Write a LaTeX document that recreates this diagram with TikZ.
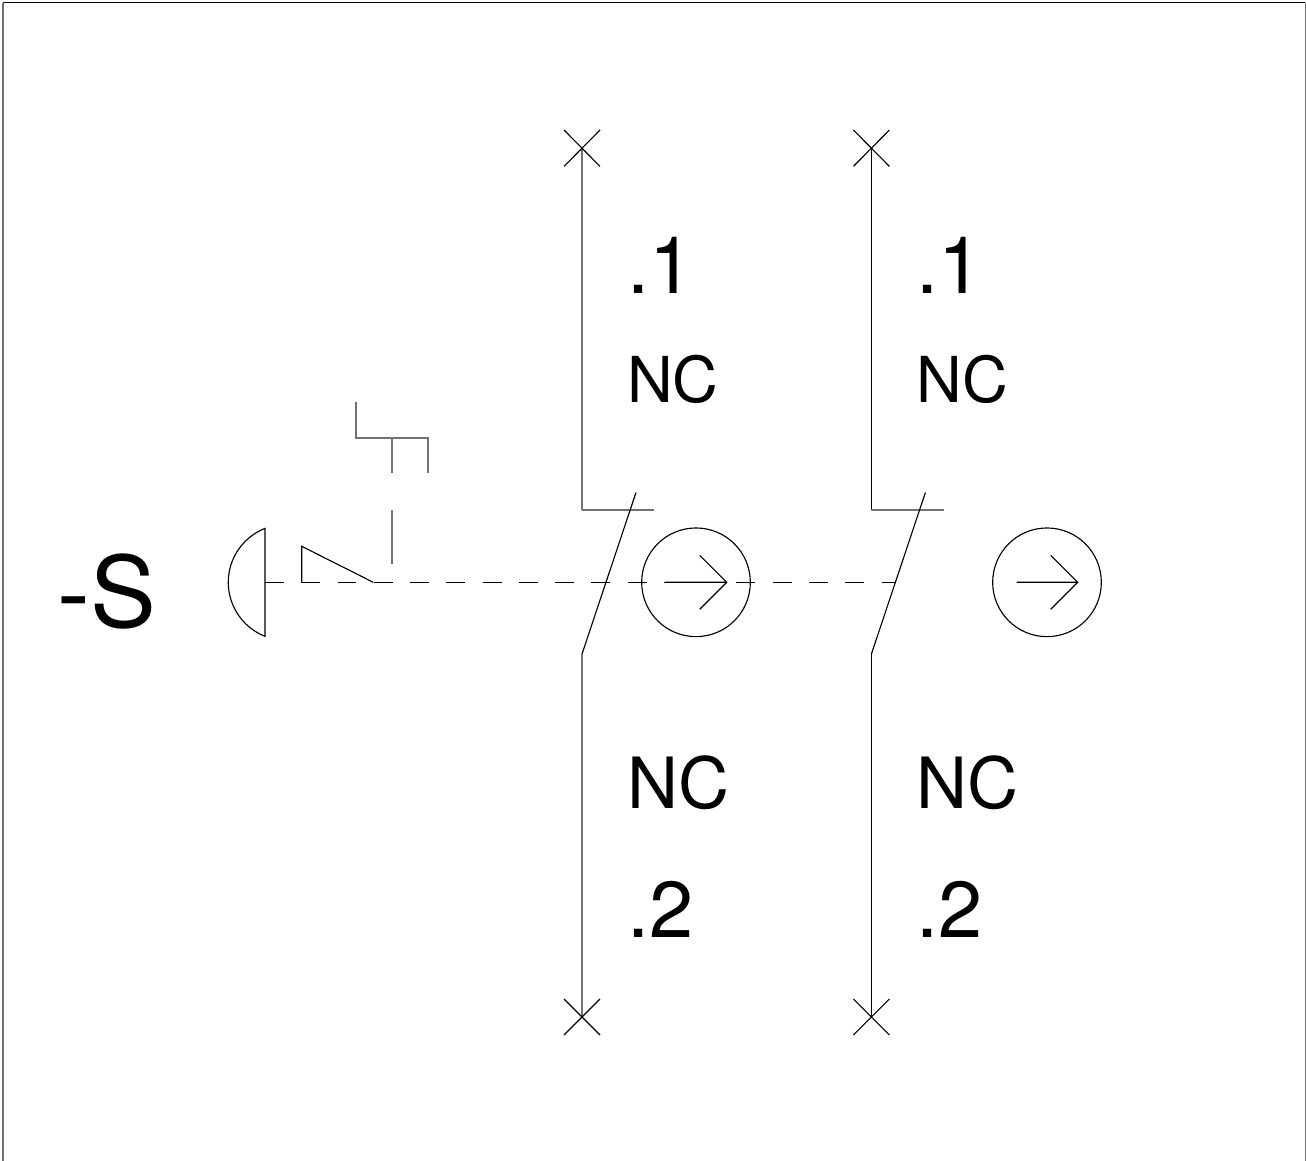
\documentclass[tikz,border=0pt]{standalone}
\usepackage{fontspec}
\setmainfont{TeX Gyre Heros}
\tikzset{
  x=0.75pt,y=-0.75pt,
  wire/.style={line width=0.85pt,draw=black},
  soft/.style={line width=0.85pt,draw=black!55},
  lbl/.style={inner sep=0pt,anchor=base west,font=\fontsize{47.5}{47.5}\selectfont},
  bigt/.style={inner sep=0pt,anchor=base west,font=\fontsize{59.5}{59.5}\selectfont},
  ncb/.style={inner sep=0pt,anchor=base west,font=\fontsize{53}{53}\selectfont},
  huget/.style={inner sep=0pt,anchor=base west,font=\fontsize{74}{74}\selectfont},
  dashw/.style={line width=0.85pt,draw=black,dash pattern=on 14.2pt off 13pt}
}
\begin{document}
\begin{tikzpicture}
\useasboundingbox (0,0) rectangle (1306,1160);
\draw[soft] (3,1170) -- (3,2.8);
\draw[wire] (3,2.8) -- (1305.3,2.8);
\draw[soft] (1305.3,2.8) -- (1305.3,1170);
\foreach \n/\dx/\vs in {a/0/soft,b/289.4/wire}{
\begin{scope}[xshift=\dx*0.75pt]
\coordinate (\n top) at (582,148.3);
\coordinate (\n el) at (582,510);
\coordinate (\n er) at (654.3,510);
\coordinate (\n bot) at (582,1017);
\coordinate (\n s1) at (636,492.5);
\coordinate (\n s2) at (582,654);
\draw[\vs] (\n top) -- (\n el);
\draw[soft] (\n el) -- (\n er);
\draw[wire] (\n s1) -- (\n s2);
\draw[\vs] (\n s2) -- (\n bot);
\draw[wire] (564,130) -- (600,166.4) (600,130) -- (564,166.4);
\draw[wire] (564,999) -- (600,1035) (600,999) -- (564,1035);
\node[bigt] (\n l1) at (627,293) {.1};
\node[lbl] (\n nct) at (627,402) {NC};
\node[ncb] (\n ncb) at (627,808.5) {NC};
\node[bigt] (\n l2) at (627,937) {.2};
\end{scope}}
\node[huget] (s) at (57,627) {-S};
\draw[wire] (265,636.3) arc[start angle=111.5,end angle=248.5,radius=58] -- cycle;
\draw[wire] (301.7,582.3) -- (301.7,546.3) -- (373.3,582.3);
\draw[dashw] (265,582.3) -- (895,582.3);
\draw[soft] (356,401.7) -- (356,438) -- (428,438) -- (428,473.3);
\draw[soft] (392,438) -- (392,473.3) (392,510) -- (392,564);
\node[draw,circle,line width=0.85pt,minimum size=81.5pt,inner sep=0pt] (c1) at (696,582.3) {};
\node[draw,circle,line width=0.85pt,minimum size=81.5pt,inner sep=0pt] (c2) at (1047,582.3) {};
\draw[wire] (665.7,582.3) -- (726.7,582.3) (699.7,555.3) -- (726.7,582.3) -- (699.7,609.3);
\draw[wire] (1016.7,582.3) -- (1077.7,582.3) (1050.7,555.3) -- (1077.7,582.3) -- (1050.7,609.3);
\end{tikzpicture}
\end{document}
